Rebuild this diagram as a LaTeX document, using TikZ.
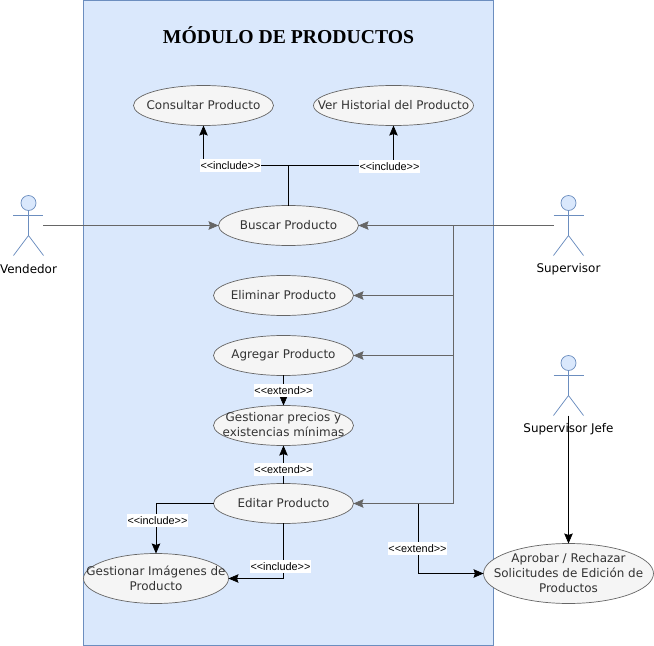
\documentclass[tikz,border=0pt]{standalone}
\usepackage{xcolor}
\usepackage{fontspec}
\usepackage{tikz}
\usetikzlibrary{calc,shapes.geometric,arrows.meta}

\newfontfamily\ucfont{DejaVu Sans}
\newfontfamily\relfont{Liberation Sans}
\newfontfamily\titlefont{Liberation Serif}

\definecolor{boxfill}{HTML}{DAE8FC}
\definecolor{boxline}{HTML}{6C8EBF}
\definecolor{ucfill}{HTML}{F5F5F5}
\definecolor{ucline}{HTML}{666666}
\definecolor{uctext}{HTML}{333333}

\tikzset{
	line width=0.02cm,
	ucase/.style 2 args={ellipse,draw=ucline,fill=ucfill,inner sep=0,outer sep=0,minimum width=#1,minimum height=#2},
	uclabel/.style={text=uctext,align=center,inner sep=0,font=\ucfont\fontsize{6.8pt}{8.5pt}\selectfont},
	actorname/.style={inner sep=0,font=\ucfont\fontsize{6.8pt}{8.5pt}\selectfont},
	rel/.style={fill=white,inner xsep=0.01cm,inner ysep=0,minimum height=0.26cm,font=\relfont\fontsize{6.2pt}{7pt}\selectfont},
	conn/.style={black,-{Stealth[length=0.2cm,width=0.17cm,inset=0.03cm]}},
	assoc/.style={ucline,-{Stealth[length=0.2cm,width=0.17cm,inset=0.03cm]}}
}

% stick figure, head centre x and top y
\newcommand{\actorfig}[2]{
	\draw[boxline,fill=boxfill] (#1,#2+7.5) circle [radius=0.15cm];
	\draw[boxline] (#1,#2+15) -- (#1,#2+40);
	\draw[boxline] (#1-15,#2+20) -- (#1+15,#2+20);
	\draw[boxline] (#1-15,#2+60) -- (#1,#2+40) -- (#1+15,#2+60);
}

\begin{document}
\begin{tikzpicture}[x=0.02cm,y=-0.02cm]
	\useasboundingbox (0,0) rectangle (654,646);

	\draw[boxline,fill=boxfill] (83.5,0.5) rectangle (493.5,645.5);
	\node[inner sep=0,font=\titlefont\bfseries\fontsize{11.2pt}{13pt}\selectfont] (title) at (288.5,35) {MÓDULO DE PRODUCTOS};

	% actors
	\actorfig{28.5}{195.5}
	\actorfig{568.5}{195.5}
	\actorfig{568.5}{355.5}
	\node[actorname] (vendedor) at (28.5,269) {Vendedor};
	\node[actorname] (supervisor) at (568.5,269) {Supervisor};
	\node[actorname] (jefe) at (568.5,429) {Supervisor Jefe};
	\coordinate (vendedorEnd) at (43.5,225.5);
	\coordinate (supervisorEnd) at (553.5,225.5);
	\coordinate (jefeEnd) at (568.5,415.5);

	% use cases
	\node[ucase={2.8cm}{0.8cm}] (consultar) at (203.5,105.5) {};
	\node[ucase={3.2cm}{0.8cm}] (historial) at (393.5,105.5) {};
	\node[ucase={2.8cm}{0.8cm}] (buscar) at (288.5,225.5) {};
	\node[ucase={2.8cm}{0.8cm}] (eliminar) at (283.5,295.5) {};
	\node[ucase={2.8cm}{0.8cm}] (agregar) at (283.5,355.5) {};
	\node[ucase={2.8cm}{0.8cm}] (precios) at (283.5,425.5) {};
	\node[ucase={2.8cm}{0.8cm}] (editar) at (283.5,503.5) {};
	\node[ucase={2.9cm}{1cm}] (imagenes) at (156,578.5) {};
	\node[ucase={3.4cm}{1.2cm}] (aprobar) at (568.5,573.5) {};

	\node[uclabel] (consultarText) at (203.5,105.5) {Consultar Producto};
	\node[uclabel] (historialText) at (393.5,105.5) {Ver Historial del Producto};
	\node[uclabel] (buscarText) at (288.5,225.5) {Buscar Producto};
	\node[uclabel] (eliminarText) at (283.5,295.5) {Eliminar Producto};
	\node[uclabel] (agregarText) at (283.5,355.5) {Agregar Producto};
	\node[uclabel] (preciosText) at (283.5,425) {Gestionar precios y\\existencias mínimas};
	\node[uclabel] (editarText) at (283.5,503.5) {Editar Producto};
	\node[uclabel] (imagenesText) at (156,578) {Gestionar Imágenes de\\Producto};
	\node[uclabel] (aprobarText) at (568.5,573) {Aprobar / Rechazar\\Solicitudes de Edición de\\Productos};

	% gray associations
	\coordinate (trunk) at (453.5,225.5);
	\draw[assoc] (vendedorEnd) -- (buscar.west);
	\draw[assoc] (supervisorEnd) -- (buscar.east);
	\draw[assoc] (trunk) |- (editar.east);
	\draw[assoc] (trunk |- eliminar.east) -- (eliminar.east);
	\draw[assoc] (trunk |- agregar.east) -- (agregar.east);

	% include and extend
	\coordinate (fork) at (288.5,165.5);
	\coordinate (aprobarStart) at (418.5,503.5);
	\draw[conn] (buscar.north) -- (fork) -| (consultar.south);
	\draw[conn] (fork) -| (historial.south);
	\draw[conn] (agregar.south) -- (precios.north);
	\draw[conn] (editar.north) -- (precios.south);
	\draw[conn] (editar.west) -| (imagenes.north);
	\draw[conn] (editar.south) |- (imagenes.east);
	\draw[conn] (aprobarStart) |- (aprobar.west);
	\draw[conn] (jefeEnd) -- (aprobar.north);

	\node[rel] (incConsultar) at (230.5,165.5) {<<include>>};
	\node[rel] (incHistorial) at (389.5,166.5) {<<include>>};
	\node[rel] (extAgregar) at (283.5,390.5) {<<extend>>};
	\node[rel] (extEditar) at (283.5,469.5) {<<extend>>};
	\node[rel] (incImagenesA) at (157.5,520.5) {<<include>>};
	\node[rel] (incImagenesB) at (280.5,566.5) {<<include>>};
	\node[rel] (extAprobar) at (417.5,548.5) {<<extend>>};
\end{tikzpicture}
\end{document}
